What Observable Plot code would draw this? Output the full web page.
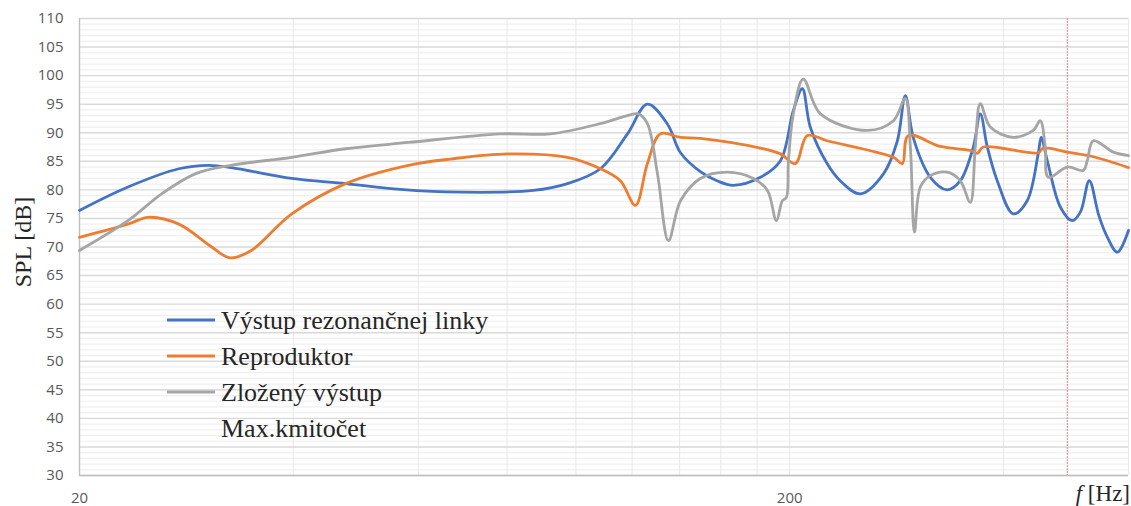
<!DOCTYPE html>
<html><head><meta charset="utf-8">
<script src="https://cdn.jsdelivr.net/npm/d3@7"></script>
<script src="https://cdn.jsdelivr.net/npm/@observablehq/plot@0.6"></script>
<style>
body{margin:0;background:#fff;}
#chart{position:relative;width:1131px;height:506px;}
#chart svg{display:block;}
</style></head><body><div id="chart"></div>
<script>
// ---- data ----
const seriesNames = ["Výstup rezonančnej linky", "Reproduktor", "Zložený výstup", "Max.kmitočet"];
const seriesColors = ["#4472C4", "#ED7D31", "#A5A5A5", "#F08080"];

const vystupF  = [20, 23.4, 27.6, 30.4, 32.7, 39.8, 47.4, 56.6, 68.8, 87.1, 97.3, 108.3, 118.2, 126.1, 134.6, 140.4, 149.7, 158.0, 166.6, 181.9, 194.1, 202.4, 208.4, 213.8, 225.8, 236.0, 251.6, 271.1, 283.6, 291.0, 298.8, 315.6, 333.4, 347.8, 362.8, 371.1, 379.6, 392.0, 412.9, 432.0, 447.7, 452.1, 461.1, 481, 500, 513.3, 528.4, 545, 560.4, 578.7, 600];
const vystupDb = [76.4, 80.5, 83.7, 84.3, 83.9, 82.0, 81.1, 80.1, 79.6, 79.9, 81.1, 83.7, 89.8, 95.0, 91.5, 86.5, 83.2, 81.6, 80.8, 82.2, 85.1, 93.9, 97.7, 91.0, 84.6, 81.5, 79.3, 82.8, 88.6, 96.5, 89.0, 82.2, 80.0, 81.6, 87.5, 93.3, 87.5, 81.6, 75.8, 78.1, 86.3, 89.2, 85.1, 77.0, 74.6, 76.1, 81.6, 75.5, 71.7, 69.1, 72.9];

const reproF  = [20, 23.4, 25.0, 27.6, 30.7, 32.6, 34.9, 39.8, 47.4, 58.1, 66.6, 80.1, 97.3, 108.3, 115.5, 121.3, 126.1, 131.5, 140.4, 149.7, 181.9, 194.1, 203.7, 211.8, 225.8, 280.0, 288.2, 293.8, 326.0, 359.2, 367.5, 374.7, 447.7, 455.1, 492, 535.3, 600];
const reproDb = [71.7, 74.0, 75.2, 74.0, 70.0, 68.1, 69.4, 75.8, 81.1, 84.3, 85.4, 86.3, 85.7, 83.7, 81.6, 77.3, 84.6, 89.8, 89.2, 89.0, 87.3, 86.3, 84.6, 89.5, 88.6, 85.7, 84.6, 89.5, 87.6, 86.9, 86.4, 87.5, 86.5, 87.3, 86.6, 85.8, 83.9];

const compF  = [20, 23.4, 26.1, 29.1, 32.7, 39.8, 47.4, 58.1, 78.3, 92.1, 108.3, 118.2, 122.5, 126.1, 130.3, 135.0, 140.4, 149.7, 163.4, 177.8, 186.1, 191.6, 195.3, 197.9, 199.2, 202.4, 209.0, 221.0, 257.4, 280.0, 291.0, 295.8, 299.7, 305.5, 315.6, 333.4, 347.8, 359.2, 365.1, 371.1, 383.3, 412.9, 440.5, 450.7, 458.1, 462.6, 492, 518.2, 524.9, 535.3, 571.3, 600];
const compDb = [69.4, 74.6, 79.3, 82.8, 84.3, 85.7, 87.2, 88.3, 89.8, 89.8, 91.6, 93.0, 93.3, 91.6, 82.8, 71.1, 78.1, 82.0, 83.1, 82.0, 79.9, 74.6, 78.1, 78.7, 85.1, 93.3, 99.4, 93.3, 90.4, 92.1, 96.0, 87.5, 72.6, 80.5, 82.5, 83.1, 81.6, 77.8, 87.5, 95.1, 91.0, 89.2, 90.4, 92.1, 87.5, 82.2, 84.0, 83.4, 85.1, 88.6, 86.6, 86.0];

const maxFreq = [492];

const yTicks = [30, 35, 40, 45, 50, 55, 60, 65, 70, 75, 80, 85, 90, 95, 100, 105, 110];
const xTicks = [20, 200];
const xGrid  = [40, 60, 80, 100, 120, 140, 160, 180, 200, 400, 600];
const yMinor = d3.range(30, 111, 1).filter(v => v % 5 !== 0);

// ---- table ----
function rowsOf(fs, dbs, name) { return fs.map((f, i) => ({f, db: dbs[i], series: name})); }
const lines = [
  rowsOf(vystupF, vystupDb, seriesNames[0]),
  rowsOf(reproF, reproDb, seriesNames[1]),
  rowsOf(compF, compDb, seriesNames[2])
];

const sans = "'Open Sans', 'Liberation Sans', sans-serif";
const serif = "'Liberation Serif', 'DejaVu Serif', serif";

const plot = Plot.plot({
  width: 1131, height: 506,
  marginLeft: 79, marginRight: 3, marginTop: 18, marginBottom: 31,
  x: {type: "log", domain: [20, 600], label: null},
  y: {domain: [30, 110], label: null},
  style: {background: "#fff", fontFamily: sans},
  marks: [
    Plot.ruleY(yMinor, {stroke: "#efefef", strokeWidth: 1.2}),
    Plot.ruleX(xGrid, {stroke: "#e8e8e8", strokeWidth: 1}),
    Plot.ruleY(yTicks, {stroke: "#d9d9d9", strokeWidth: 1.4}),
    Plot.ruleX([20], {stroke: "#bfbfbf", strokeWidth: 1.4}),
    Plot.ruleY([30], {stroke: "#bfbfbf", strokeWidth: 1.4}),
    Plot.ruleX(maxFreq, {stroke: seriesColors[3], strokeWidth: 1, strokeDasharray: "2,1"}),
    ...lines.map((rows, i) => Plot.line(rows, {x: "f", y: "db", stroke: seriesColors[i], strokeWidth: 2.8, curve: "catmull-rom"})),
    Plot.axisY(yTicks, {tickSize: 0, tickPadding: 16, fontSize: 15, fill: "#595959", fontFamily: sans, label: null}),
    Plot.axisX(xTicks, {tickSize: 0, tickPadding: 17, fontSize: 15, fill: "#595959", fontFamily: sans, label: null, tickFormat: d => String(d)})
  ]
});

document.getElementById("chart").appendChild(plot);

// ---- titles & legend ----
const svg = d3.select(plot);
svg.append("text")
  .attr("transform", "translate(31,242) rotate(-90)")
  .attr("text-anchor", "middle")
  .attr("font-family", serif).attr("font-size", 24).attr("fill", "#262626")
  .text("SPL [dB]");

const fx = svg.append("text")
  .attr("x", 1130).attr("y", 501)
  .attr("text-anchor", "end")
  .attr("font-family", serif).attr("font-size", 23).attr("fill", "#262626");
fx.append("tspan").attr("font-style", "italic").text("f");
fx.append("tspan").text(" [Hz]");

const lg = svg.append("g").attr("text-anchor", "start");
seriesNames.forEach((name, i) => {
  const base = 329 + i * 36;
  if (i < 3) {
    lg.append("line").attr("x1", 167).attr("x2", 215)
      .attr("y1", base - 9).attr("y2", base - 9)
      .attr("stroke", seriesColors[i]).attr("stroke-width", 2.8);
  }
  lg.append("text").attr("x", 221).attr("y", base)
    .attr("text-anchor", "start")
    .attr("font-family", serif).attr("font-size", 26).attr("fill", "#262626")
    .text(name);
});
</script>
</body></html>
